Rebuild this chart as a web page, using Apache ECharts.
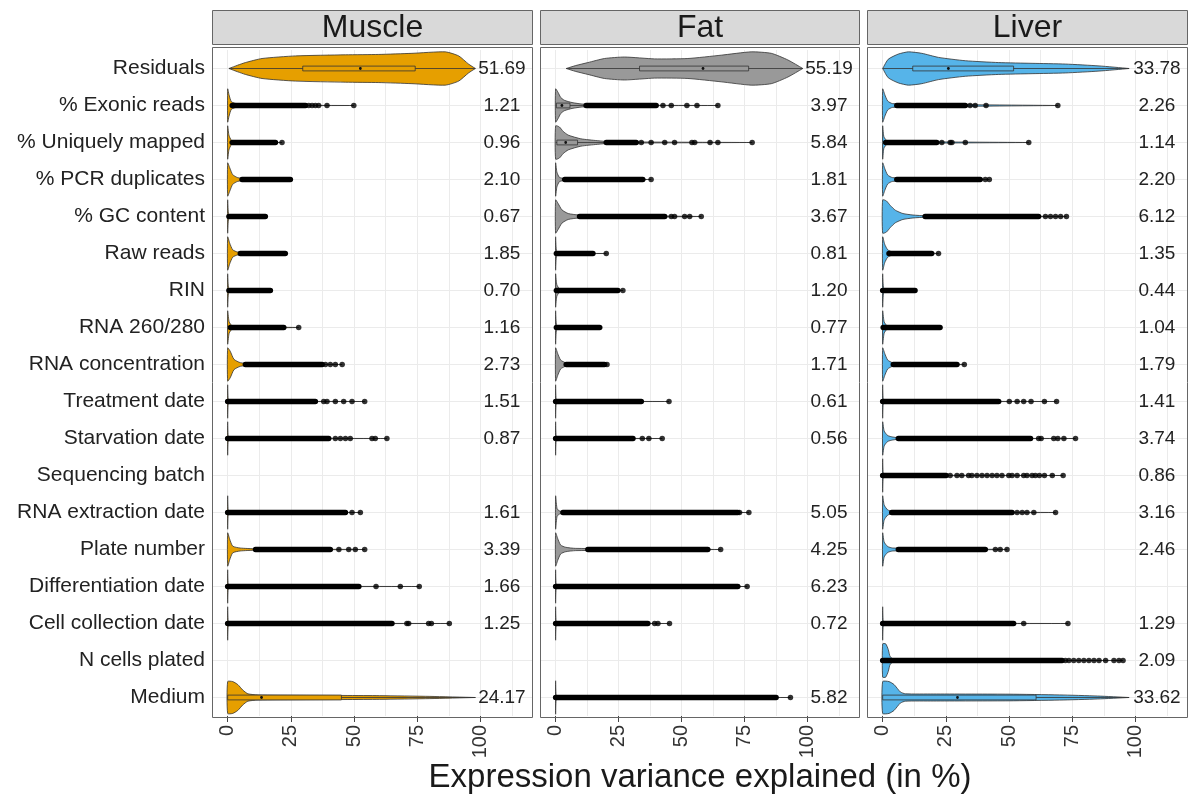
<!DOCTYPE html>
<html>
<head>
<meta charset="utf-8">
<script src="https://cdn.jsdelivr.net/npm/echarts@6/dist/echarts.min.js"></script>
<style>
  html, body { margin: 0; padding: 0; background: #fff; }
  #chart { width: 1189px; height: 798px; }
</style>
</head>
<body>
<div id="chart"></div>
<script>
const categories = ['Residuals', '% Exonic reads', '% Uniquely mapped', '% PCR duplicates', '% GC content',
  'Raw reads', 'RIN', 'RNA 260/280', 'RNA concentration', 'Treatment date', 'Starvation date',
  'Sequencing batch', 'RNA extraction date', 'Plate number', 'Differentiation date',
  'Cell collection date', 'N cells plated', 'Medium'];
const tissues = ['Muscle', 'Fat', 'Liver'];
const xTicks = [0, 25, 50, 75, 100];
const xMinor = [0, 12.5, 25, 37.5, 50, 62.5, 75, 87.5, 100, 112.5];

// value printed at the right of each row
const muscleLabel = [51.69, 1.21, 0.96, 2.10, 0.67, 1.85, 0.70, 1.16, 2.73, 1.51, 0.87, null, 1.61, 3.39, 1.66, 1.25, null, 24.17];
const fatLabel = [55.19, 3.97, 5.84, 1.81, 3.67, 0.81, 1.20, 0.77, 1.71, 0.61, 0.56, null, 5.05, 4.25, 6.23, 0.72, null, 5.82];
const liverLabel = [33.78, 2.26, 1.14, 2.20, 6.12, 1.35, 0.44, 1.04, 1.79, 1.41, 3.74, 0.86, 3.16, 2.46, null, 1.29, 2.09, 33.62];

// violin outline: [value, half width as share of a row]
const muscleViolin = [
  [[0.5, 0], [4, 0.09], [7, 0.16], [13.6, 0.27], [26.8, 0.34], [46.6, 0.37], [59.8, 0.38], [72.9, 0.41], [86.1, 0.45], [91.4, 0.34], [95.3, 0.12], [98, 0]],
  [[0, 0.45], [0.5, 0.3], [1.5, 0.1], [4, 0.04], [8, 0.01], [49.9, 0]],
  [[0, 0.45], [0.5, 0.2], [1.5, 0.06], [4, 0.02], [21.5, 0]],
  [[0, 0.45], [0.8, 0.32], [2, 0.13], [4, 0.05], [8, 0.02], [24.8, 0]],
  [[0, 0.45], [0.4, 0.05], [2, 0.01], [14.9, 0]],
  [[0, 0.45], [0.8, 0.28], [2, 0.1], [4, 0.04], [22.8, 0]],
  [[0, 0.45], [0.4, 0.05], [2, 0.01], [16.9, 0]],
  [[0, 0.45], [0.6, 0.15], [2, 0.04], [28.1, 0]],
  [[0, 0.45], [1, 0.36], [2.5, 0.14], [5, 0.05], [10, 0.015], [45.3, 0]],
  [[0, 0.45], [0.3, 0.03], [2, 0.01], [54.2, 0]],
  [[0, 0.45], [0.3, 0.03], [2, 0.01], [63, 0]],
  null,
  [[0, 0.45], [0.3, 0.03], [2, 0.01], [52.5, 0]],
  [[0, 0.45], [0.8, 0.28], [2, 0.09], [5, 0.04], [11, 0.02], [54.2, 0]],
  [[0, 0.45], [0.3, 0.03], [2, 0.01], [75.8, 0]],
  [[0, 0.45], [0.3, 0.03], [2, 0.01], [87.7, 0]],
  null,
  [[0, 0.43], [2, 0.43], [4, 0.35], [6, 0.2], [8, 0.1], [12, 0.07], [30, 0.06], [60, 0.05], [80, 0.03], [98, 0]]
];
const fatViolin = [
  [[4.2, 0], [8, 0.08], [12.8, 0.16], [19.4, 0.27], [27.4, 0.31], [39.3, 0.26], [52.5, 0.27], [65.7, 0.36], [77.6, 0.45], [85.6, 0.41], [92.2, 0.23], [98.1, 0]],
  [[0, 0.45], [1, 0.35], [2, 0.22], [3.5, 0.14], [6.5, 0.08], [10.5, 0.04], [20, 0.01], [64.4, 0]],
  [[0, 0.45], [1.5, 0.42], [3, 0.3], [5, 0.2], [10, 0.1], [16.5, 0.05], [22, 0.02], [78, 0]],
  [[0, 0.45], [0.5, 0.2], [1.5, 0.06], [4, 0.02], [37.9, 0]],
  [[0, 0.45], [1, 0.35], [2.5, 0.18], [5, 0.08], [9.5, 0.04], [57.8, 0]],
  [[0, 0.45], [0.4, 0.05], [2, 0.01], [20.1, 0]],
  [[0, 0.45], [0.5, 0.15], [2, 0.03], [26.7, 0]],
  [[0, 0.45], [0.4, 0.05], [2, 0.01], [17.5, 0]],
  [[0, 0.45], [0.8, 0.3], [2, 0.12], [4, 0.05], [20.4, 0]],
  [[0, 0.45], [0.3, 0.03], [2, 0.01], [45, 0]],
  [[0, 0.45], [0.3, 0.03], [2, 0.01], [42.3, 0]],
  null,
  [[0, 0.45], [0.6, 0.1], [2, 0.03], [76.7, 0]],
  [[0, 0.45], [0.8, 0.3], [2, 0.12], [4, 0.06], [8, 0.03], [65.5, 0]],
  [[0, 0.45], [0.3, 0.03], [2, 0.01], [76, 0]],
  [[0, 0.45], [0.3, 0.03], [2, 0.01], [45.2, 0]],
  null,
  [[0, 0.45], [0.3, 0.03], [2, 0.01], [93.2, 0]]
];
const liverViolin = [
  [[0, 0], [2.2, 0.25], [6.2, 0.39], [10.2, 0.45], [15.5, 0.41], [22.1, 0.3], [32.7, 0.21], [45.9, 0.16], [59.1, 0.14], [72.3, 0.12], [85.6, 0.07], [97.5, 0]],
  [[0, 0.45], [0.8, 0.3], [2, 0.12], [4, 0.05], [69.3, 0]],
  [[0, 0.45], [0.5, 0.15], [2, 0.04], [57.8, 0]],
  [[0, 0.45], [0.8, 0.3], [2, 0.12], [4, 0.05], [42.2, 0]],
  [[0, 0.45], [1.5, 0.42], [3, 0.3], [5, 0.17], [8, 0.08], [12, 0.04], [17, 0.02], [72.7, 0]],
  [[0, 0.45], [0.8, 0.25], [2, 0.1], [4, 0.04], [22.1, 0]],
  [[0, 0.45], [0.4, 0.05], [2, 0.01], [12.8, 0]],
  [[0, 0.45], [0.6, 0.15], [2, 0.04], [22.7, 0]],
  [[0, 0.45], [0.8, 0.3], [2, 0.12], [4, 0.05], [32.3, 0]],
  [[0, 0.45], [0.3, 0.03], [2, 0.01], [68.8, 0]],
  [[0, 0.45], [0.6, 0.2], [2, 0.08], [4, 0.04], [8, 0.01], [76.3, 0]],
  [[0, 0.45], [0.3, 0.03], [2, 0.01], [71.4, 0]],
  [[0, 0.45], [0.6, 0.2], [2, 0.07], [4, 0.03], [68.4, 0]],
  [[0, 0.45], [0.6, 0.2], [2, 0.08], [4, 0.04], [49.2, 0]],
  null,
  [[0, 0.45], [0.3, 0.03], [2, 0.01], [73.3, 0]],
  [[0, 0.45], [1.2, 0.45], [2.2, 0.3], [3, 0.1], [5, 0.02], [95.1, 0]],
  [[0, 0.43], [2.5, 0.43], [4.5, 0.35], [7, 0.15], [9, 0.1], [20, 0.095], [50, 0.09], [70, 0.07], [85, 0.04], [97.5, 0]]
];

// boxplot: [lower whisker, q1, median, q3, upper whisker] (only where visible)
const muscleBox = [[0.5, 29.7, 52.5, 74.2, 98], null, null, null, null, null, null, null, null, null, null, null, null, null, null, null, null, [0, 0, 13.4, 45, 98]];
const fatBox = [[4.2, 33.3, 58.5, 76.6, 98.1], [0, 0.3, 2.5, 5.7, 12], [0, 0.5, 4, 8.7, 19.5], null, null, null, null, null, null, null, null, null, null, null, null, null, null, null];
const liverBox = [[0, 11.9, 26, 51.8, 97.5], null, null, null, null, null, null, null, null, null, null, null, null, null, null, null, null, [0, 0, 29.6, 60.7, 97.5]];

// outliers packed so tightly they merge: [from, to]
const muscleDense = [null, [1.8, 30.8], [1.8, 18.9], [5.7, 24.8], [0.5, 14.9], [5, 22.8], [0.5, 16.9], [1.1, 22.2], [7, 37.4], [0, 34.7], [0, 40], null, [0, 46.6], [11, 40.6], [0, 51.9], [0, 65], null, null];
const fatDense = [null, [12.1, 39.9], [20.1, 32], [3.6, 34.6], [9.5, 43.3], [0.3, 14.8], [0.3, 24.7], [0.3, 17.5], [4.2, 19.4], [0, 34], [0, 30.7], null, [2.9, 72.3], [12.8, 60.4], [0, 72.3], [0, 36.6], null, [0, 87.5]];
const liverDense = [null, [5.6, 32.7], [1.2, 21.4], [5.6, 38.6], [16.8, 61.7], [2.5, 19.4], [0, 12.8], [0.2, 22.7], [4.2, 29.4], [0, 45.9], [6.2, 58.5], [0, 25.1], [3.6, 51.2], [6.2, 40.6], null, [0, 51.8], [0, 71], null];

// separate outlier points
const muscleOut = [[], [32.1, 33.4, 34.7, 36.0, 39.3, 49.9], [21.5], [], [], [], [], [28.1], [38.7, 40.6, 42.6, 45.3],
  [38.0, 39.3, 42.6, 45.9, 49.2, 54.2], [42.6, 44.6, 46.6, 48.5, 57.1, 58.4, 63.0], [], [49.2, 52.5],
  [44, 47.9, 50.5, 54.2], [58.7, 68.3, 75.8], [70.9, 71.6, 79.5, 80.6, 87.7], [], []];
const fatOut = [[], [42.6, 45.9, 52.1, 56.1, 64.4], [34, 37.9, 43.3, 47.2, 54.1, 55.2, 61.3, 64.4, 78], [37.9],
  [45.9, 47.2, 51.2, 53.2, 57.8], [20.1], [26.7], [], [20.4], [45], [34.4, 37, 42.3], [], [73, 76.7], [65.5],
  [76], [39.3, 40.6, 45.2], [], [93.2]];
const liverOut = [[], [34.6, 36.6, 40.9, 69.3], [23.4, 26.7, 27.4, 32.7, 57.8], [40.6, 42.2],
  [64.4, 66.4, 68.4, 70.4, 72.7], [22.1], [], [], [32.3], [50.1, 53.2, 55.8, 58.7, 64.0, 68.8],
  [61.7, 62.7, 67.7, 69.3, 71.7, 76.3],
  [26.7, 29.4, 31.3, 34.0, 35.3, 37.3, 39.3, 41.3, 43.3, 45.2, 47.2, 49.9, 51.2, 53.2, 55.8, 57.1, 59.1, 60.4, 62.0, 64.0, 67.1, 71.4],
  [53.2, 55.2, 57.1, 59.8, 68.4], [44.6, 46.5, 49.2], [], [55.8, 73.3],
  [72.3, 73.7, 75.6, 77.6, 79.6, 81.6, 83.6, 85.6, 88.2, 91.5, 93.5, 95.1], []];

const panelData = [
  { label: muscleLabel, violin: muscleViolin, box: muscleBox, dense: muscleDense, out: muscleOut },
  { label: fatLabel, violin: fatViolin, box: fatBox, dense: fatDense, out: fatOut },
  { label: liverLabel, violin: liverViolin, box: liverBox, dense: liverDense, out: liverOut }
];

const fills = ['#E69F00', '#999999', '#56B4E9'];
const font = '"Liberation Sans", Arial, Helvetica, sans-serif';
const panelLeft = [212, 540, 867];
const panelWidth = [321, 320, 321];
const panelTop = 47, panelBottom = 718;
const xMin = -6.2, xMax = 120.8, labelX = 108.5;

const rowsWith = arr => arr.map((v, i) => (v == null ? null : [0, i])).filter(Boolean);

const grid = [], xAxis = [], yAxis = [], series = [], graphic = [];

tissues.forEach((name, p) => {
  const d = panelData[p];
  grid.push({ left: panelLeft[p], width: panelWidth[p], top: panelTop + 3, bottom: 798 - panelBottom + 2, show: false });
  xAxis.push({
    type: 'value', gridIndex: p, min: xMin, max: xMax, position: 'bottom',
    axisLine: { show: false },
    axisTick: { show: false, customValues: xMinor },
    axisLabel: { show: false },
    splitLine: { show: true, lineStyle: { color: '#ebebeb', width: 1 } }
  });
  xAxis.push({
    type: 'value', gridIndex: p, min: xMin, max: xMax, position: 'bottom',
    axisLine: { show: false },
    axisTick: { show: true, customValues: xTicks, length: 6, lineStyle: { color: '#444' } },
    axisLabel: { customValues: xTicks, rotate: 90, fontSize: 20, color: '#333', margin: 9, fontFamily: font },
    splitLine: { show: false }
  });
  yAxis.push({
    type: 'category', gridIndex: p, data: categories, inverse: true,
    axisLine: { show: false },
    axisTick: { show: p === 0, alignWithLabel: true, length: 5, lineStyle: { color: '#444' } },
    axisLabel: { show: p === 0, fontSize: 21, color: '#222', margin: 7, fontFamily: font },
    splitLine: { show: false }
  });
  const xi = 2 * p, yi = p;

  // horizontal grid lines at each row
  series.push({
    type: 'custom', xAxisIndex: xi, yAxisIndex: yi, z: 1, silent: true,
    data: categories.map((c, i) => [0, i]), encode: { x: 0, y: 1 },
    renderItem: (params, api) => {
      const y = api.coord([0, api.value(1)])[1];
      const cs = params.coordSys;
      return { type: 'line', shape: { x1: cs.x, y1: y, x2: cs.x + cs.width, y2: y }, style: { stroke: '#ebebeb', lineWidth: 1 } };
    }
  });

  // violins
  series.push({
    type: 'custom', xAxisIndex: xi, yAxisIndex: yi, z: 2, silent: true,
    data: rowsWith(d.violin), encode: { x: 0, y: 1 },
    renderItem: (params, api) => {
      const row = api.value(1);
      const band = api.size([0, 1])[1];
      const top = [], bottom = [];
      d.violin[row].forEach(([v, hw]) => {
        const c = api.coord([v, row]);
        top.push([c[0], c[1] - hw * band]);
        bottom.push([c[0], c[1] + hw * band]);
      });
      return {
        type: 'polygon', shape: { points: top.concat(bottom.reverse()), smooth: 0.2 },
        style: { fill: fills[p], stroke: '#333', lineWidth: 0.8 }
      };
    }
  });

  // boxplots
  series.push({
    type: 'custom', xAxisIndex: xi, yAxisIndex: yi, z: 3, silent: true,
    data: rowsWith(d.box), encode: { x: 0, y: 1 },
    renderItem: (params, api) => {
      const row = api.value(1);
      const [lo, q1, med, q3, hi] = d.box[row];
      const band = api.size([0, 1])[1];
      const h = band * 0.065;
      const a = api.coord([q1, row]), b = api.coord([q3, row]);
      const l = api.coord([lo, row]), r = api.coord([hi, row]);
      const m = api.coord([med, row]);
      return {
        type: 'group', children: [
          { type: 'line', shape: { x1: l[0], y1: l[1], x2: r[0], y2: r[1] }, style: { stroke: '#333', lineWidth: 0.8 } },
          { type: 'rect', shape: { x: a[0], y: a[1] - h, width: b[0] - a[0], height: 2 * h }, style: { fill: fills[p], stroke: '#333', lineWidth: 0.8 } },
          { type: 'circle', shape: { cx: m[0], cy: m[1], r: 1.4 }, style: { fill: '#111' } }
        ]
      };
    }
  });

  // merged outlier runs
  series.push({
    type: 'custom', xAxisIndex: xi, yAxisIndex: yi, z: 4, silent: true,
    data: rowsWith(d.dense), encode: { x: 0, y: 1 },
    renderItem: (params, api) => {
      const row = api.value(1);
      const [s, e] = d.dense[row];
      const a = api.coord([s, row]), b = api.coord([e, row]);
      return { type: 'line', shape: { x1: a[0], y1: a[1], x2: b[0], y2: b[1] }, style: { stroke: '#000', lineWidth: 5.5, lineCap: 'round' } };
    }
  });

  // single outliers
  const pts = [];
  d.out.forEach((vals, i) => vals.forEach(v => pts.push([v, i])));
  series.push({
    type: 'scatter', xAxisIndex: xi, yAxisIndex: yi, z: 5, silent: true,
    symbol: 'circle', symbolSize: 5.5, itemStyle: { color: '#000' }, data: pts
  });

  // value labels
  series.push({
    type: 'custom', xAxisIndex: xi, yAxisIndex: yi, z: 6, silent: true,
    data: d.label.map((v, i) => (v == null ? null : [labelX, i, v])).filter(Boolean),
    encode: { x: 0, y: 1 },
    renderItem: (params, api) => {
      const c = api.coord([api.value(0), api.value(1)]);
      return {
        type: 'text',
        style: { text: api.value(2).toFixed(2), x: c[0], y: c[1], align: 'center', verticalAlign: 'middle', fontSize: 19, fill: '#222', fontFamily: font }
      };
    }
  });

  // panel frame and strip
  graphic.push({
    type: 'rect', z: 100, silent: true,
    shape: { x: panelLeft[p] + 0.5, y: panelTop + 0.5, width: panelWidth[p] - 1, height: panelBottom - panelTop - 1 },
    style: { fill: null, stroke: '#666', lineWidth: 1 }
  });
  graphic.push({
    type: 'rect', z: 100, silent: true,
    shape: { x: panelLeft[p] + 0.5, y: 10.5, width: panelWidth[p] - 1, height: 34 },
    style: { fill: '#d9d9d9', stroke: '#666', lineWidth: 1 }
  });
  graphic.push({
    type: 'text', z: 101, silent: true,
    style: { text: name, x: panelLeft[p] + panelWidth[p] / 2, y: 28, align: 'center', verticalAlign: 'middle', fontSize: 32, fill: '#1a1a1a', fontFamily: font }
  });
});

graphic.push({
  type: 'text', z: 101, silent: true,
  style: { text: 'Expression variance explained (in %)', x: 700, y: 778, align: 'center', verticalAlign: 'middle', fontSize: 33, fill: '#1a1a1a', fontFamily: font }
});

const myChart = echarts.init(document.getElementById('chart'));
myChart.setOption({
  animation: false,
  backgroundColor: '#fff',
  grid, xAxis, yAxis, series, graphic
});
</script>
</body>
</html>
